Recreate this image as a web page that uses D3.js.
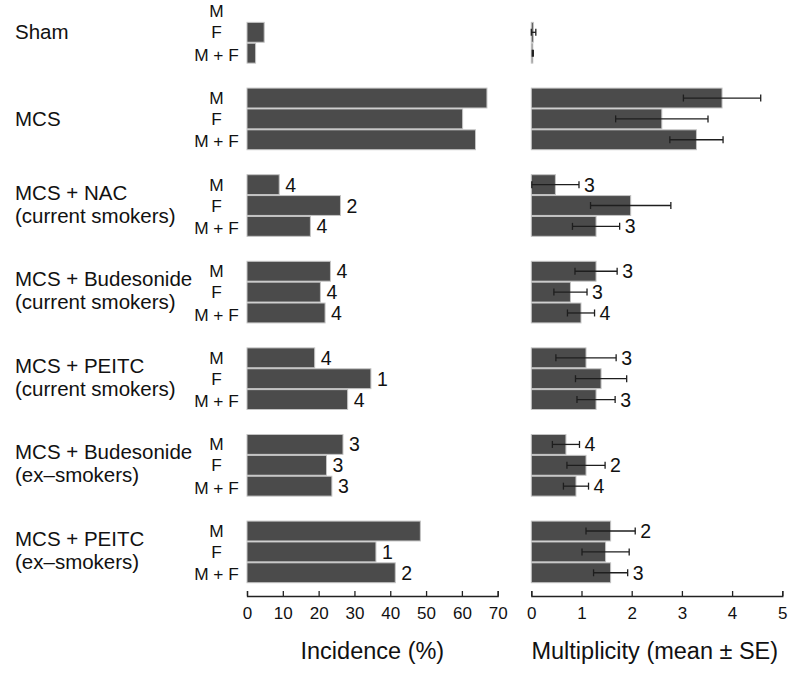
<!DOCTYPE html>
<html>
<head>
<meta charset="utf-8">
<script src="https://cdn.jsdelivr.net/npm/d3@7"></script>
<style>
  html, body { margin: 0; padding: 0; background: #fff; }
  svg { display: block; font-family: "Liberation Sans", Arial, Helvetica, sans-serif; }
</style>
</head>
<body>
<svg id="chart" width="800" height="673"></svg>
<script>
// ---- data ----
const groupLabels = [
  ["Sham"],
  ["MCS"],
  ["MCS + NAC", "(current smokers)"],
  ["MCS + Budesonide", "(current smokers)"],
  ["MCS + PEITC", "(current smokers)"],
  ["MCS + Budesonide", "(ex\u2013smokers)"],
  ["MCS + PEITC", "(ex\u2013smokers)"]
];
const sexes = ["M", "F", "M + F"];
// Incidence (%) per group, per sex (M, F, M + F)
const incidence = [
  [0, 4.8, 2.4],
  [67.0, 60.2, 63.8],
  [9.0, 26.1, 17.7],
  [23.3, 20.5, 21.8],
  [18.9, 34.6, 28.1],
  [26.8, 22.2, 23.7],
  [48.4, 36.0, 41.4]
];
const incidenceN = [
  [null, null, null],
  [null, null, null],
  [4, 2, 4],
  [4, 4, 4],
  [4, 1, 4],
  [3, 3, 3],
  [null, 1, 2]
];
// Multiplicity mean and SE
const multMean = [
  [0, 0.04, 0.03],
  [3.80, 2.60, 3.29],
  [0.48, 1.98, 1.29],
  [1.29, 0.78, 0.99],
  [1.09, 1.39, 1.29],
  [0.69, 1.09, 0.89],
  [1.58, 1.48, 1.58]
];
const multSE = [
  [0, 0.05, 0.01],
  [0.77, 0.92, 0.53],
  [0.47, 0.80, 0.47],
  [0.42, 0.33, 0.27],
  [0.60, 0.51, 0.38],
  [0.27, 0.38, 0.25],
  [0.49, 0.47, 0.34]
];
const multN = [
  [null, null, null],
  [null, null, null],
  [3, null, 3],
  [3, 3, 4],
  [3, null, 3],
  [4, 2, 4],
  [2, null, 3]
];
const incTicks = [0, 10, 20, 30, 40, 50, 60, 70];
const multTicks = [0, 1, 2, 3, 4, 5];
const incTitle = "Incidence (%)";
const multTitle = "Multiplicity (mean \u00b1 SE)";

// ---- layout ----
const svg = d3.select("#chart");
const barFill = "#4b4b4b", barStroke = "#c4c4c4", errColor = "#1e1e1e";
const axisY = 596;

const gIdx = d3.range(groupLabels.length);
const y = d3.scaleBand().domain(gIdx).range([1, 583.2]).paddingInner(0.277).paddingOuter(0);
const ySub = d3.scaleBand().domain(sexes).range([0, y.bandwidth()]).padding(0);

const xInc = d3.scaleLinear().domain([0, 70]).range([247, 497.7]);
const xMult = d3.scaleLinear().domain([0, 5]).range([531.3, 782.3]);

// flatten records
const recs = [];
gIdx.forEach(g => sexes.forEach((s, i) => recs.push({
  g, s, inc: incidence[g][i], incN: incidenceN[g][i],
  mean: multMean[g][i], se: multSE[g][i], mN: multN[g][i]
})));
const yb = d => y(d.g) + ySub(d.s);
const yc = d => yb(d) + ySub.bandwidth() / 2;

// group labels
const gl = svg.append("g").style("font-size", "20.5px").attr("fill", "#111");
gIdx.forEach(g => {
  const lines = groupLabels[g];
  const cy = y(g) + y.bandwidth() / 2;
  lines.forEach((t, j) => {
    const off = lines.length === 1 ? 0 : (j === 0 ? -13 : 10);
    gl.append("text").attr("x", 15).attr("y", cy + off)
      .attr("dy", "0.35em").text(t);
  });
});

// sex labels
svg.append("g").style("font-size", "17.3px").attr("fill", "#111")
  .selectAll("text").data(recs).join("text")
  .attr("x", 216.5).attr("y", d => yc(d) + (d.s === "M + F" ? 1.5 : 0))
  .attr("dy", "0.35em").attr("text-anchor", "middle").text(d => d.s);

// incidence bars
svg.append("g").selectAll("rect").data(recs).join("rect")
  .attr("x", xInc(0)).attr("y", d => yb(d) + 0.5)
  .attr("width", d => xInc(d.inc) - xInc(0)).attr("height", ySub.bandwidth() - 1)
  .attr("fill", barFill).attr("stroke", barStroke).attr("stroke-width", 1);

svg.append("g").style("font-size", "19.5px").attr("fill", "#111")
  .selectAll("text").data(recs.filter(d => d.incN != null)).join("text")
  .attr("x", d => xInc(d.inc) + 6).attr("y", d => yc(d))
  .attr("dy", "0.36em").text(d => d.incN);

// multiplicity bars
svg.append("g").selectAll("rect").data(recs).join("rect")
  .attr("x", xMult(0)).attr("y", d => yb(d) + 0.5)
  .attr("width", d => xMult(d.mean) - xMult(0)).attr("height", ySub.bandwidth() - 1)
  .attr("fill", barFill).attr("stroke", barStroke).attr("stroke-width", 1);

// error bars
const eb = svg.append("g").attr("stroke", errColor).attr("stroke-width", 1.3)
  .selectAll("g").data(recs.filter(d => d.se > 0)).join("g");
eb.append("line")
  .attr("x1", d => xMult(Math.max(0, d.mean - d.se))).attr("x2", d => xMult(d.mean + d.se))
  .attr("y1", yc).attr("y2", yc);
eb.append("line")
  .attr("x1", d => xMult(d.mean + d.se)).attr("x2", d => xMult(d.mean + d.se))
  .attr("y1", d => yc(d) - 3.5).attr("y2", d => yc(d) + 3.5);
eb.append("line")
  .attr("x1", d => xMult(Math.max(0, d.mean - d.se))).attr("x2", d => xMult(Math.max(0, d.mean - d.se)))
  .attr("y1", d => yc(d) - 3.5).attr("y2", d => yc(d) + 3.5);

svg.append("g").style("font-size", "19.5px").attr("fill", "#111")
  .selectAll("text").data(recs.filter(d => d.mN != null)).join("text")
  .attr("x", d => xMult(d.mean + d.se) + 5).attr("y", d => yc(d))
  .attr("dy", "0.36em").text(d => d.mN);

// axes
function styleAxis(g) {
  g.attr("font-family", null).attr("font-size", null).style("font-size", "17px");
  g.selectAll("path.domain").attr("stroke", "#222").attr("stroke-width", 1.3);
  g.selectAll(".tick line").attr("stroke", "#222").attr("stroke-width", 1.3);
  g.selectAll(".tick text").style("font-size", "17px").attr("fill", "#111");
}
svg.append("g").attr("transform", `translate(0,${axisY})`)
  .call(d3.axisBottom(xInc).tickValues(incTicks).tickFormat(d3.format("d"))
    .tickSizeInner(-5).tickSizeOuter(-5).tickPadding(11))
  .call(styleAxis);
svg.append("g").attr("transform", `translate(0,${axisY})`)
  .call(d3.axisBottom(xMult).tickValues(multTicks).tickFormat(d3.format("d"))
    .tickSizeInner(-5).tickSizeOuter(-5).tickPadding(11))
  .call(styleAxis);

// axis titles
svg.append("text").attr("x", (xInc.range()[0] + xInc.range()[1]) / 2).attr("y", 659)
  .attr("text-anchor", "middle").style("font-size", "23.5px").attr("fill", "#111").text(incTitle);
svg.append("text").attr("x", (xMult.range()[0] + xMult.range()[1]) / 2 - 2).attr("y", 659)
  .attr("text-anchor", "middle").style("font-size", "23.5px").attr("fill", "#111").text(multTitle);
</script>
</body>
</html>
